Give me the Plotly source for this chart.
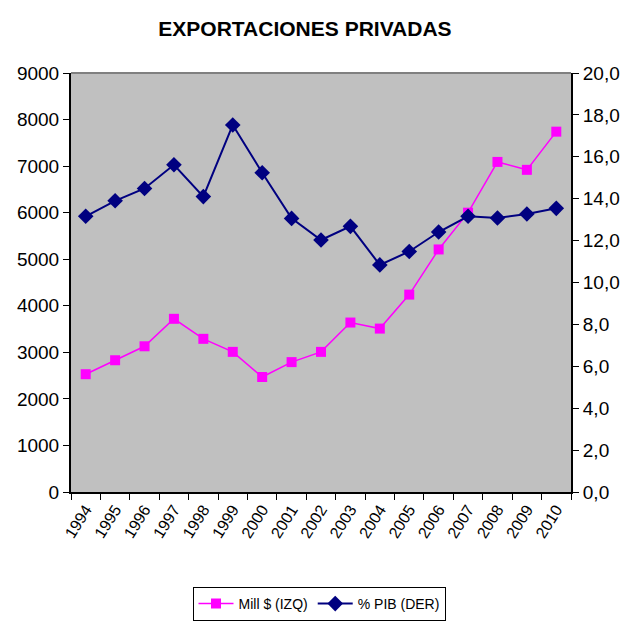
import plotly.graph_objects as go

years = [str(y) for y in range(1994, 2011)]
mill_usd = [2530, 2830, 3130, 3720, 3290, 3010, 2470, 2790, 3010, 3640, 3510, 4240, 5210, 6000, 7090, 6920, 7740]
pct_pib = [13.16, 13.9, 14.49, 15.62, 14.1, 17.52, 15.24, 13.06, 12.03, 12.68, 10.84, 11.48, 12.41, 13.16, 13.08, 13.27, 13.54]

left_ticks = list(range(0, 9001, 1000))
right_ticks = [0, 2, 4, 6, 8, 10, 12, 14, 16, 18, 20]
right_labels = ["0,0", "2,0", "4,0", "6,0", "8,0", "10,0", "12,0", "14,0", "16,0", "18,0", "20,0"]

FONT = "Liberation Sans, Arial, sans-serif"

fig = go.Figure()
fig.add_trace(go.Scatter(
    x=years, y=mill_usd, name="Mill $ (IZQ)", mode="lines+markers",
    line=dict(color="#FF00FF", width=1.5),
    marker=dict(symbol="square", size=10, color="#FF00FF"),
    yaxis="y",
))
fig.add_trace(go.Scatter(
    x=years, y=pct_pib, name="% PIB (DER)", mode="lines+markers",
    line=dict(color="#000080", width=2),
    marker=dict(symbol="diamond", size=12, color="#000080"),
    yaxis="y2",
))

fig.update_layout(
    width=638, height=630,
    margin=dict(l=71, r=67, t=73, b=138, autoexpand=False),
    paper_bgcolor="white",
    plot_bgcolor="#C0C0C0",
    font=dict(family=FONT, color="black"),
    title=dict(text="<b>EXPORTACIONES PRIVADAS</b>", x=0.478, xanchor="center",
               y=1 - 29 / 630, yanchor="middle", yref="container",
               font=dict(size=21, family=FONT, color="black")),
    xaxis=dict(type="category", tickson="boundaries", ticks="outside", ticklen=6,
               tickcolor="black", showline=True, linecolor="black", linewidth=2,
               showgrid=False, tickangle=-58, tickfont=dict(size=16),
               range=[-0.5, 16.5], automargin=False),
    yaxis=dict(range=[0, 9000], tickvals=left_ticks, ticks="outside", ticklen=6,
               tickcolor="black", showline=True, linecolor="black", linewidth=2,
               showgrid=False, zeroline=False, tickfont=dict(size=19), automargin=False),
    yaxis2=dict(range=[0, 20], tickvals=right_ticks, ticktext=right_labels,
                overlaying="y", side="right", ticks="outside", ticklen=6,
                tickcolor="black", showline=True, linecolor="black", linewidth=2,
                showgrid=False, zeroline=False, tickfont=dict(size=19), automargin=False),
    legend=dict(orientation="h", xref="container", yref="container",
                x=0.5, xanchor="center", y=1 - 587 / 630, yanchor="top",
                bordercolor="black", borderwidth=1, bgcolor="white",
                font=dict(size=14), itemwidth=35),
    showlegend=True,
)
fig.add_shape(type="line", xref="paper", yref="paper", x0=0, x1=1, y0=1, y1=1,
              line=dict(color="#808080", width=2))

fig.write_html("out.html", config={"displayModeBar": False},
               post_script="document.body.style.margin='0px';")
